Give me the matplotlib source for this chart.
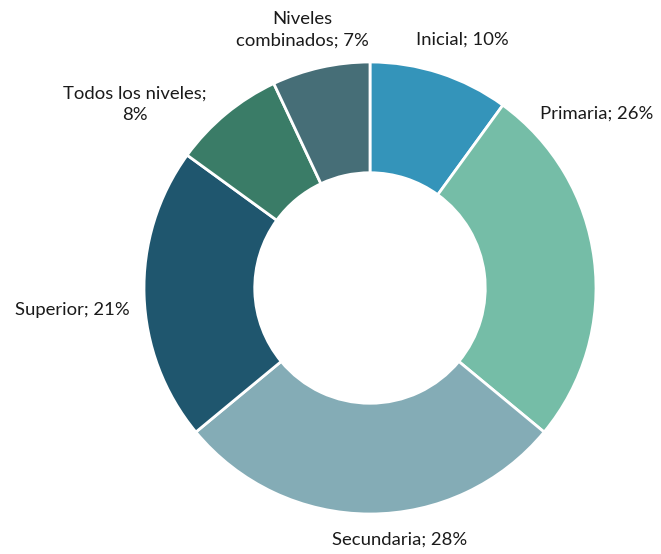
import matplotlib
matplotlib.use("Agg")
import matplotlib.pyplot as plt

categories = ["Inicial", "Primaria", "Secundaria", "Superior", "Todos los niveles", "Niveles combinados"]
values = [10, 26, 28, 21, 8, 7]
colors = ["#3494BA", "#75BDA7", "#84ACB6", "#1F566E", "#3A7C67", "#466E77"]

# label text and pixel centres (layout only)
label_texts = ["Inicial; 10%", "Primaria; 26%", "Secundaria; 28%", "Superior; 21%",
               "Todos los niveles;\n8%", "Niveles\ncombinados; 7%"]
label_px = [(462, 40), (597, 114), (400, 540), (72, 310), (135, 104), (302, 30)]

W, H = 661, 554
cx, cy, r = 370, 288, 226

fig = plt.figure(figsize=(W / 100, H / 100), dpi=100)
ax = fig.add_axes([(cx - r) / W, (H - cy - r) / H, 2 * r / W, 2 * r / H])
ax.pie(values, colors=colors, startangle=90, counterclock=False, radius=1,
       wedgeprops=dict(width=0.49, edgecolor="white", linewidth=2))
ax.set_xlim(-1, 1)
ax.set_ylim(-1, 1)
ax.set_aspect("equal")
ax.axis("off")

for txt, (px, py) in zip(label_texts, label_px):
    ax.text((px - cx) / r, (cy - py) / r, txt, ha="center", va="center",
            fontsize=13.3, family=["Lato", "DejaVu Sans"], color="#1a1a1a",
            linespacing=1.4, clip_on=False)

fig.savefig("out.png", dpi=100)
